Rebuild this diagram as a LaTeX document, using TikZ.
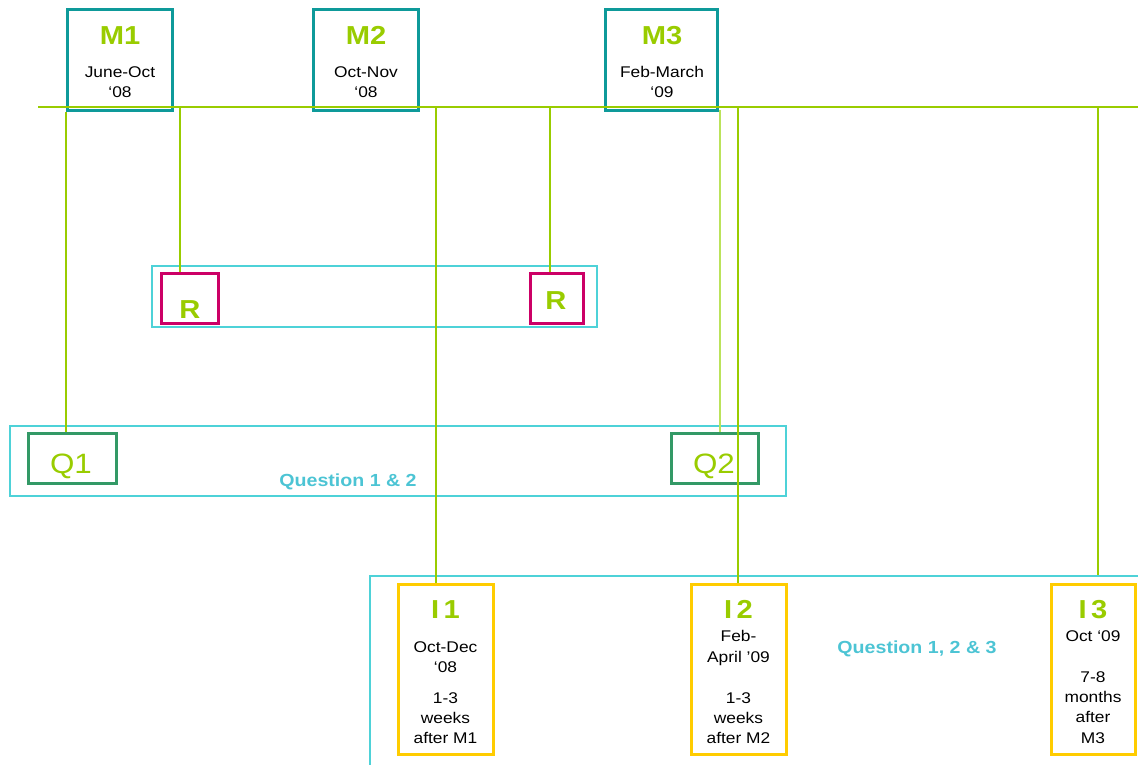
\documentclass[tikz,border=0pt]{standalone}
\usepackage{fontspec}
\setmainfont{Liberation Sans}[FakeStretch=1.12]
\definecolor{lime}{HTML}{99CC00}
\definecolor{limelight}{HTML}{BBE35A}
\definecolor{tealbox}{HTML}{0E9A9A}
\definecolor{magbox}{HTML}{CC0066}
\definecolor{qgreen}{HTML}{339966}
\definecolor{ybox}{HTML}{FFCC00}
\definecolor{cont}{HTML}{4ED2D8}
\definecolor{qtext}{HTML}{4CC4D4}
\tikzset{
  mbox/.style={draw=tealbox,line width=3pt,rectangle,minimum width=105pt,minimum height=101pt,inner sep=0pt},
  rbox/.style={draw=magbox,line width=3pt,rectangle,minimum width=57pt,minimum height=50pt,inner sep=0pt},
  qbox/.style={draw=qgreen,line width=3pt,rectangle,minimum width=87pt,minimum height=50pt,inner sep=0pt},
  ibox/.style={draw=ybox,line width=3pt,rectangle,minimum width=94pt,minimum height=170pt,inner sep=0pt},
  container/.style={draw=cont,line width=1.2pt,rectangle,inner sep=0pt},
  conn/.style={draw=lime,line width=2pt},
  connlight/.style={draw=limelight,line width=2pt},
  biglabel/.style={text=lime,font=\fontsize{26}{30}\selectfont\bfseries,anchor=base,inner sep=0pt},
  qlabel/.style={text=lime,font=\fontsize{28}{32}\selectfont,anchor=base,inner sep=0pt},
  small/.style={text=black,font=\fontsize{15.5}{19}\selectfont,anchor=base,inner sep=0pt},
  qtxt/.style={text=qtext,font=\fontsize{17.5}{21}\selectfont\bfseries,anchor=base,inner sep=0pt},
}
\begin{document}
\begin{tikzpicture}[x=1pt,y=-1pt]
\useasboundingbox (0,0) rectangle (1138,764);
% containers
\node[container,minimum width=445pt,minimum height=61pt] (rc) at (374.5,296.5) {};
\node[container,minimum width=776pt,minimum height=70pt] (qc) at (398,461) {};
\node[container,minimum width=800pt,minimum height=220pt] (ic) at (770,686) {};
% M boxes
\node[mbox] (m1) at (119.5,59.5) {};
\node[mbox] (m2) at (365.5,59.5) {};
\node[mbox,minimum width=112pt] (m3) at (661.5,59.5) {};
% R boxes
\node[rbox] (r1) at (190,298.5) {};
\node[rbox,minimum width=53pt] (r2) at (556.5,298.5) {};
% Q boxes
\node[qbox,minimum width=88pt] (q1) at (72,458.5) {};
\node[qbox] (q2) at (714.5,458) {};
% I boxes
\node[ibox,minimum width=95pt] (i1) at (445.5,669.5) {};
\node[ibox,minimum width=95pt] (i2) at (738.5,669.5) {};
\node[ibox,minimum width=84pt] (i3) at (1093,669) {};
% texts
\node[biglabel] (m1t) at (120,44) {M1};
\node[small] (m1a) at (120,77) {June-Oct};
\node[small] (m1b) at (120,97) {‘08};
\node[biglabel] (m2t) at (366,44) {M2};
\node[small] (m2a) at (366,77) {Oct-Nov};
\node[small] (m2b) at (366,97) {‘08};
\node[biglabel] (m3t) at (662,44) {M3};
\node[small] (m3a) at (662,77) {Feb-March};
\node[small] (m3b) at (662,97) {‘09};
\node[biglabel] (r1t) at (190,318) {R};
\node[biglabel] (r2t) at (556,309) {R};
\node[qlabel] (q1t) at (71,473) {Q1};
\node[qlabel] (q2t) at (714,473) {Q2};
\node[qtxt] (qt12) at (348,486) {Question 1 \& 2};
\node[qtxt] (qt123) at (917,653) {Question 1, 2 \& 3};
\node[biglabel] (i1t) at (445.5,618) {I\,1};
\node[small] (i1a) at (445.5,652) {Oct-Dec};
\node[small] (i1b) at (445.5,672) {‘08};
\node[small] (i1c) at (445.5,703) {1-3};
\node[small] (i1d) at (445.5,723) {weeks};
\node[small] (i1e) at (445.5,743) {after M1};
\node[biglabel] (i2t) at (738.5,618) {I\,2};
\node[small] (i2a) at (738.5,641) {Feb-};
\node[small] (i2b) at (738.5,662) {April ’09};
\node[small] (i2c) at (738.5,703) {1-3};
\node[small] (i2d) at (738.5,723) {weeks};
\node[small] (i2e) at (738.5,743) {after M2};
\node[biglabel] (i3t) at (1093,618) {I\,3};
\node[small] (i3a) at (1093,641) {Oct ‘09};
\node[small] (i3b) at (1093,682) {7-8};
\node[small] (i3c) at (1093,702) {months};
\node[small] (i3d) at (1093,722) {after};
\node[small] (i3e) at (1093,743) {M3};
% timeline
\coordinate (tl0) at (38,107);
\coordinate (tl1) at (1138,107);
\coordinate (a2) at (180,107);
\coordinate (a3) at (436,107);
\coordinate (a4) at (550,107);
\coordinate (a5) at (720,110);
\coordinate (a6) at (738,107);
\coordinate (a7) at (1098,107);
\draw[conn] (tl0) -- (tl1);
\draw[conn] (m1.south west) -- (m1.south west |- q1.north);
\draw[conn] (a2) -- (a2 |- r1.north);
\draw[conn] (a3) -- (a3 |- i1.north);
\draw[conn] (a4) -- (a4 |- r2.north);
\draw[connlight] (a5) -- (a5 |- q2.north);
\draw[conn] (a6) -- (a6 |- i2.north);
\draw[conn] (a7) -- (a7 |- ic.north);
\end{tikzpicture}
\end{document}
